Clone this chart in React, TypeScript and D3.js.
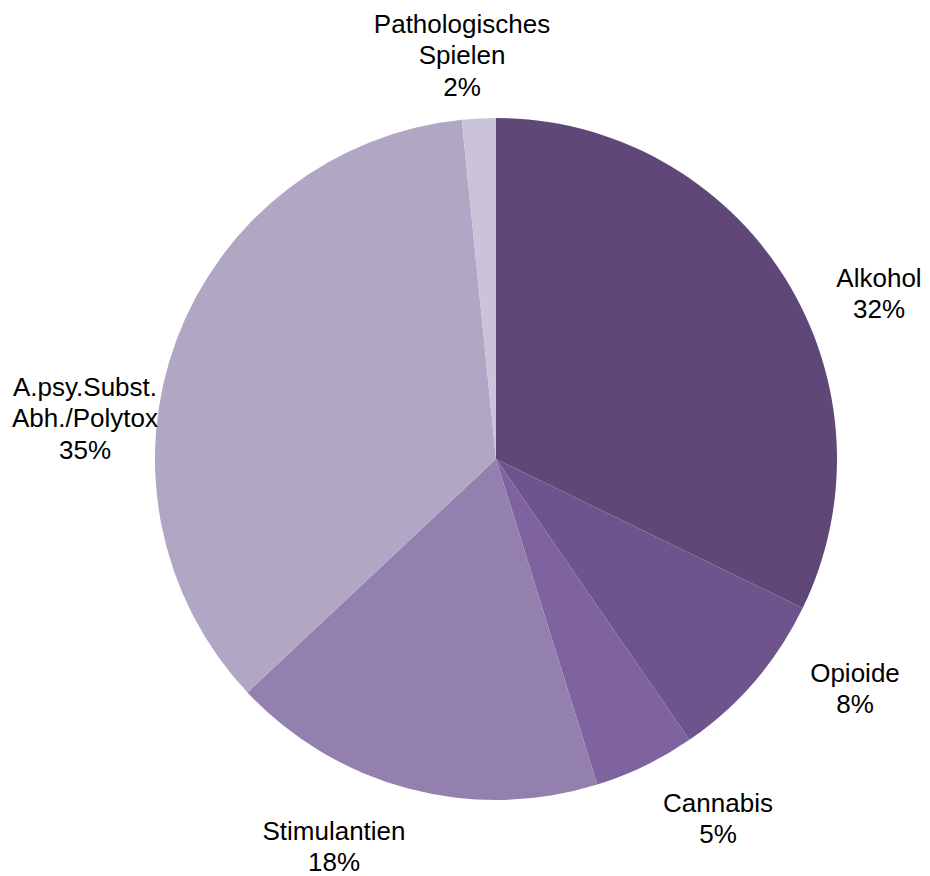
import React from "react";
import * as d3 from "d3";

const categories = ["Alkohol", "Opioide", "Cannabis", "Stimulantien", "A.psy.Subst.\nAbh./Polytox", "Pathologisches\nSpielen"];
const values = [32.2, 8.2, 4.8, 17.8, 35.4, 1.6];
const colors = ["#5F4877", "#6E548D", "#7F62A0", "#9380AE", "#B1A7C5", "#CBC3D9"];

// label anchor positions (center of first line)
const labelAnchors: [number, number][] = [
  [879, 278],
  [855, 673],
  [718, 803],
  [334, 831],
  [85, 387],
  [462, 24],
];

const W = 930;
const H = 876;
const cx = 496;
const cy = 459;
const R = 341;
const fontSize = 26;
const lineH = 31.3;

export default function App() {
  const pie = d3.pie<number>().sort(null).value((d) => d).startAngle(0).endAngle(2 * Math.PI);
  const arcs = pie(values);
  const arc = d3.arc<d3.PieArcDatum<number>>().innerRadius(0).outerRadius(R);
  const total = d3.sum(values);

  return (
    <svg width={W} height={H} style={{ position: "absolute", left: 0, top: 0, display: "block", background: "#fff" }}>
      <g transform={`translate(${cx},${cy})`}>
        {arcs.map((a, i) => (
          <path key={i} d={arc(a) || ""} fill={colors[i]} />
        ))}
      </g>
      {categories.map((c, i) => {
        const lines = [...c.split("\n"), `${Math.round((values[i] / total) * 100)}%`];
        const [lx, ly] = labelAnchors[i];
        return (
          <text key={i} x={lx} y={ly} textAnchor="middle" fontFamily="Liberation Sans, Arial, sans-serif" fontSize={fontSize} fill="#000">
            {lines.map((l, j) => (
              <tspan key={j} x={lx} y={ly + j * lineH + 9}>
                {l}
              </tspan>
            ))}
          </text>
        );
      })}
    </svg>
  );
}
